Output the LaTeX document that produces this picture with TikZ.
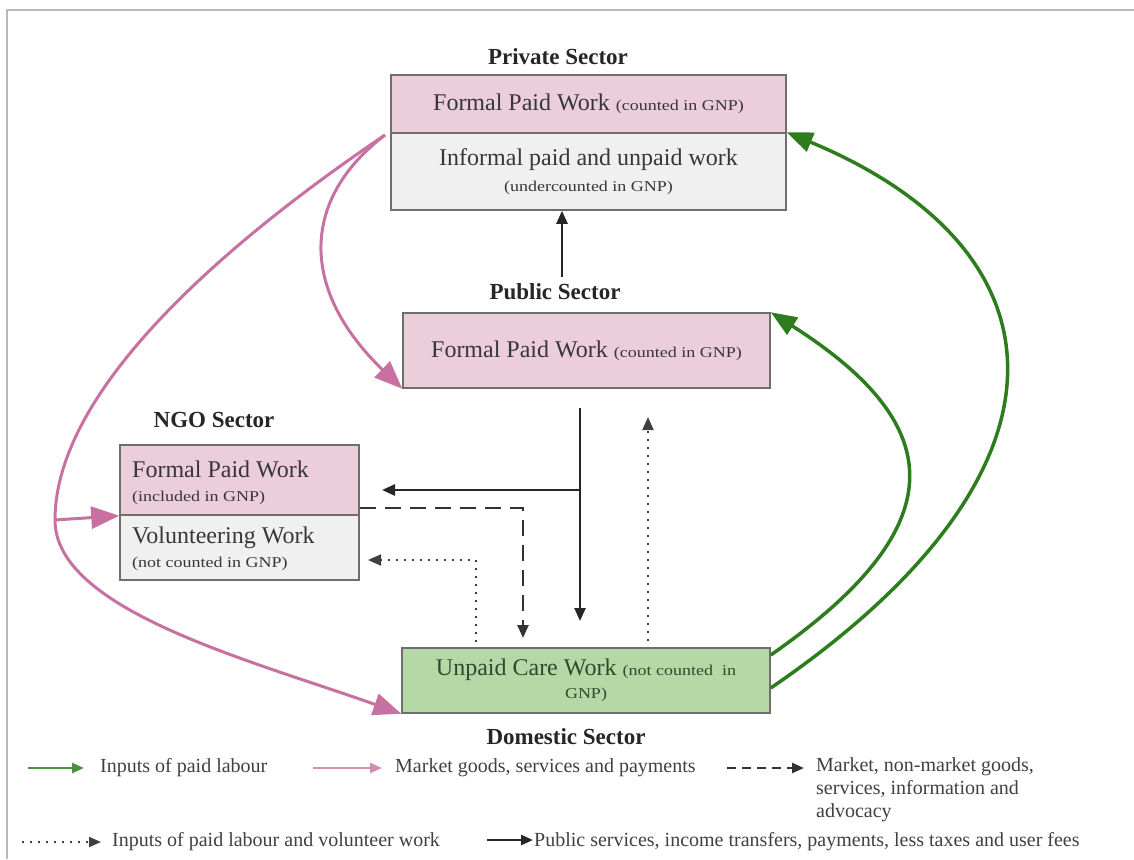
\documentclass[tikz,border=0pt]{standalone}
\usepackage{fontspec}
\usepackage{graphicx}
\setmainfont{Liberation Serif}
\usetikzlibrary{arrows.meta}
\definecolor{pinkfill}{RGB}{235,206,217}
\definecolor{greyfill}{RGB}{240,240,240}
\definecolor{greenfill}{RGB}{180,216,166}
\definecolor{boxline}{RGB}{110,110,110}
\definecolor{pinkline}{RGB}{200,112,160}
\definecolor{greenline}{RGB}{45,125,30}
\definecolor{txt}{RGB}{55,55,55}
\definecolor{gtxt}{RGB}{45,75,45}
\definecolor{framec}{RGB}{185,185,185}
\newcommand{\smtxt}[1]{\scalebox{1.2}[1]{\fontsize{15}{18}\selectfont #1}}
\tikzset{
  sectorbox/.style={draw=boxline, line width=1.5pt, inner sep=0pt, text=txt,
    font=\fontsize{24}{28}\selectfont, align=center},
  pinkbox/.style={sectorbox, fill=pinkfill},
  greybox/.style={sectorbox, fill=greyfill},
  greenbox/.style={sectorbox, fill=greenfill, text=gtxt},
  boxtext/.style={inner sep=0pt, text=txt, font=\fontsize{24}{28}\selectfont, align=left, anchor=west},
  lab/.style={font=\bfseries\fontsize{23}{27}\selectfont, text=black!85},
  legtxt/.style={font=\fontsize{20}{23}\selectfont, text=black!75, anchor=west, inner sep=0pt, align=left},
  pinkarr/.style={draw=pinkline, line width=3pt, -{Triangle[length=28pt,width=22pt]}},
  greenarr/.style={draw=greenline, line width=3.5pt, -{Triangle[length=26pt,width=20pt]}},
  blackarr/.style={draw=black!85, line width=2.5pt, -{Triangle[length=13pt,width=11pt]}},
  dashedarr/.style={draw=black!80, line width=2.5pt, dash pattern=on 16pt off 9pt, -{Triangle[length=13pt,width=11pt]}},
  dottedarr/.style={draw=black!75, line width=2pt, dash pattern=on 2pt off 6pt, -{Triangle[length=13pt,width=11pt]}},
  legpink/.style={draw=pinkline!80, line width=2.5pt, -{Triangle[length=12pt,width=10pt]}},
  leggreen/.style={draw=greenline!85, line width=2.5pt, -{Triangle[length=12pt,width=10pt]}},
}
\begin{document}
\begin{tikzpicture}[x=1pt,y=-1pt]
\useasboundingbox (0,0) rectangle (1134,859);
\draw[framec, line width=2pt] (7,859) -- (7,10) -- (1134,10);

% labels
\node[lab] (privlab) at (558,57) {Private Sector};
\node[lab] (publab) at (555,292) {Public Sector};
\node[lab] (ngolab) at (214,420) {NGO Sector};
\node[lab] (domlab) at (566,737) {Domestic Sector};

% private sector box
\node[pinkbox, minimum width=395pt, minimum height=58pt] (privA) at (588.5,104)
  {Formal Paid Work \smtxt{(counted in GNP)}};
\node[greybox, minimum width=395pt, minimum height=77pt] (privB) at (588.5,171.5)
  {Informal paid and unpaid work\\[-2pt] \smtxt{(undercounted in GNP)}};

% public sector box
\node[pinkbox, minimum width=367pt, minimum height=75pt] (pub) at (586.5,350.5)
  {Formal Paid Work \smtxt{(counted in GNP)}};

% NGO box
\node[pinkbox, minimum width=239pt, minimum height=70pt] (ngoA) at (239.5,480) {};
\node[greybox, minimum width=239pt, minimum height=65pt] (ngoB) at (239.5,547.5) {};
\node[boxtext] (ngoAt) at (132,483) {Formal Paid Work\\[-4pt] \smtxt{(included in GNP)}};
\node[boxtext] (ngoBt) at (132,549) {Volunteering Work\\[-4pt] \smtxt{(not counted in GNP)}};

% domestic box
\node[greenbox, minimum width=368pt, minimum height=65pt] (dom) at (586,680.5)
  {Unpaid Care Work \smtxt{(not counted\ \ in}\\[-5pt] \smtxt{GNP)}};

% black connectors
\coordinate (pubup) at (562,277);
\draw[blackarr] (pubup) -- (pubup |- privB.south);
\coordinate (downtop) at (580,408);
\coordinate (downbot) at (580,621);
\coordinate (branch) at (580,490);
\coordinate (branchend) at (382,490);
\draw[blackarr] (downtop) -- (downbot);
\draw[blackarr] (branch) -- (branchend);

% dotted connectors
\coordinate (dotupS) at (648,641);
\coordinate (dotupE) at (648,417);
\draw[dottedarr] (dotupS) -- (dotupE);
\coordinate (dotlS) at (476,642);
\coordinate (dotlE) at (368,560);
\draw[dottedarr] (dotlS) |- (dotlE);

% dashed connector
\coordinate (dashS) at (ngoA.east |- 0,508);
\coordinate (dashE) at (523,638);
\draw[dashedarr] (dashS) -| (dashE);

% pink curves
\coordinate (pinkS) at (385,135);
\coordinate (pinkL) at (55,520);
\draw[pinkarr] (pinkS) .. controls (300,200) and (300,290) .. (pub.south west);
\draw[pinkline, line width=3pt] (pinkS) .. controls (200,260) and (55,400) .. (pinkL);
\draw[pinkarr] (pinkL) .. controls (55,610) and (250,660) .. (dom.south west);
\draw[pinkarr] (pinkL) -- (ngoA.south west);

% green curves
\coordinate (gA) at (dom.east |- 0,655);
\coordinate (gB) at (dom.east |- 0,688);
\draw[greenarr] (gA) .. controls (965,520) and (940,420) .. (pub.north east);
\draw[greenarr] (gB) .. controls (1090,470) and (1070,250) .. (privB.north east);

% legend
\coordinate (l1a) at (28,768); \coordinate (l1b) at (84,768);
\draw[leggreen] (l1a) -- (l1b);
\node[legtxt] (lt1) at (100,768) {Inputs of paid labour};
\coordinate (l2a) at (313,768); \coordinate (l2b) at (382,768);
\draw[legpink] (l2a) -- (l2b);
\node[legtxt] (lt2) at (395,768) {Market goods, services and payments};
\coordinate (l3a) at (727,768); \coordinate (l3b) at (804,768);
\draw[draw=black!80, line width=2.5pt, dash pattern=on 9pt off 6pt, -{Triangle[length=12pt,width=10pt]}] (l3a) -- (l3b);
\node[legtxt, anchor=north west] (lt3) at (816,757) {Market, non-market goods,\\ services, information and\\ advocacy};
\coordinate (l4a) at (22,842); \coordinate (l4b) at (101,842);
\draw[draw=black!75, line width=2pt, dash pattern=on 2pt off 6pt, -{Triangle[length=12pt,width=10pt]}] (l4a) -- (l4b);
\node[legtxt] (lt4) at (112,842) {Inputs of paid labour and volunteer work};
\coordinate (l5a) at (487,840); \coordinate (l5b) at (533,840);
\draw[draw=black!85, line width=2.5pt, -{Triangle[length=12pt,width=10pt]}] (l5a) -- (l5b);
\node[legtxt] (lt5) at (534,842) {Public services, income transfers, payments, less taxes and user fees};
\end{tikzpicture}
\end{document}
